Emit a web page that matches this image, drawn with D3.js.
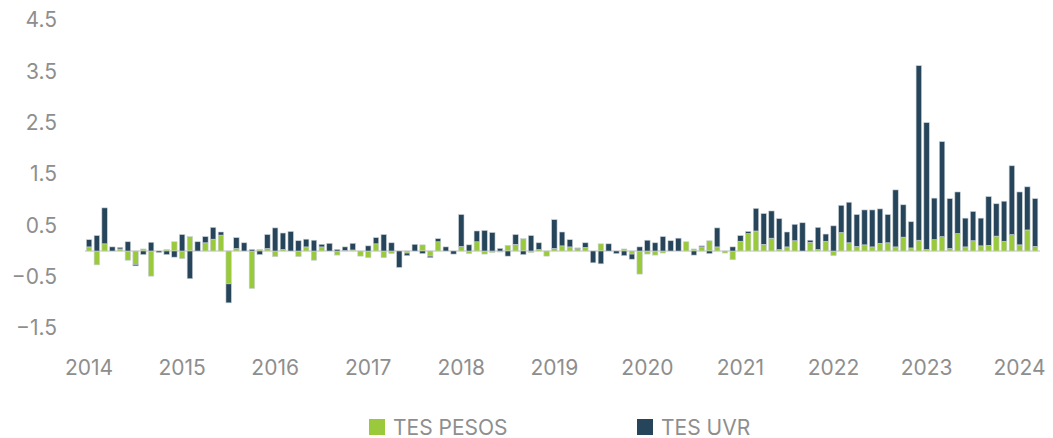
<!DOCTYPE html>
<html>
<head>
<meta charset="utf-8">
<script src="https://cdn.jsdelivr.net/npm/d3@7"></script>
<style>
  html, body { margin: 0; padding: 0; background: #fff; }
  svg { display: block; font-family: "Inter", "Open Sans", sans-serif; }
</style>
</head>
<body>
<svg id="chart" width="1053" height="438"></svg>
<script>
// ---- data (monthly, Jan 2014 – Mar 2024) ----
const startYear = 2014;
const tesPesos = [
  0.08,-0.27,0.14,0,0.04,-0.18,-0.26,0.04,-0.49,0,0.03,0.18,
  -0.15,0.28,0,0.16,0.23,0.31,-0.64,0.05,0,-0.73,0.03,0.05,
  -0.11,0.03,0,-0.11,0.08,-0.18,0.08,0,-0.08,0.01,0.02,-0.10,
  -0.13,0.14,-0.13,-0.05,0,-0.04,0,0.12,-0.10,0.18,0,0,
  0.09,-0.05,0.18,-0.06,-0.03,-0.02,0.11,0.13,0.24,-0.03,0.03,-0.10,
  0.05,0.10,0.08,0.05,0.07,0,0.14,0,0,0.04,-0.06,-0.45,
  -0.06,-0.08,-0.04,0,0,0.18,0.04,0.08,0.20,0.08,-0.04,-0.17,
  0.19,0.34,0.39,0.13,0.25,0.03,0.08,0.20,0,0.17,0.03,0.19,
  -0.09,0.36,0.16,0.09,0.12,0.08,0.15,0.16,0.08,0.27,0.06,0.21,
  0.03,0.22,0.28,0.05,0.34,0.08,0.20,0.10,0.11,0.29,0.19,0.32,
  0.12,0.41,0.09
];
const tesUvr = [
  0.14,0.30,0.70,0.08,0.03,0.18,-0.03,-0.07,0.17,-0.03,-0.07,-0.12,
  0.32,-0.54,0.18,0.12,0.23,0.06,-0.37,0.21,0.16,0.03,-0.07,0.27,
  0.45,0.32,0.38,0.20,0.15,0.21,0.05,0.15,0.03,0.07,0.13,0,
  0.10,0.12,0.32,0.16,-0.32,-0.05,0.13,-0.05,-0.03,0.06,0.08,-0.06,
  0.62,0.12,0.21,0.40,0.36,0.05,-0.10,0.19,-0.07,0.30,0.13,0,
  0.56,0.27,0.14,0.01,0.09,-0.23,-0.25,0.14,-0.05,-0.09,-0.10,0.08,
  0.21,0.16,0.28,0.20,0.25,0,-0.08,0.02,-0.05,0.37,0,0.08,
  0.11,0.04,0.44,0.60,0.53,0.60,0.29,0.32,0.55,0.04,0.43,0.14,
  0.49,0.53,0.79,0.62,0.68,0.72,0.67,0.55,1.11,0.63,0.51,3.40,
  2.47,0.81,1.85,0.97,0.81,0.56,0.57,0.54,0.95,0.63,0.78,1.34,
  1.03,0.84,0.93
];
const yTicks = [-1.5, -0.5, 0.5, 1.5, 2.5, 3.5, 4.5];
const yearLabels = ["2014","2015","2016","2017","2018","2019","2020","2021","2022","2023","2024"];
const seriesNames = ["TES PESOS", "TES UVR"];
const seriesColors = ["#9aca3c", "#26455b"];

// categories: month keys
const months = tesPesos.map((_, i) => `${startYear + Math.floor(i / 12)}-${String(i % 12 + 1).padStart(2, "0")}`);
const rows = months.map((m, i) => ({ month: m, pesos: tesPesos[i], uvr: tesUvr[i] }));

const svg = d3.select("#chart");
const textColor = "#8e8e8e";

const x = d3.scaleBand().domain(months).range([85.2, 1039.0]).paddingInner(0.3).paddingOuter(0.15);
const y = d3.scaleLinear().domain([-1.5, 4.5]).range([328, 20]);

// y labels
svg.append("g").selectAll("text").data(yTicks).join("text")
  .attr("x", 57).attr("y", d => y(d)).attr("dy", "0.35em")
  .attr("text-anchor", "end").attr("fill", textColor)
  .attr("font-size", 21).text(d => d3.format(".1f")(d).replace("-", "\u2212"));

// zero line
svg.append("line")
  .attr("x1", 85).attr("x2", 1040).attr("y1", y(0)).attr("y2", y(0))
  .attr("stroke", "#dedede").attr("stroke-width", 2.2);

// stacked bars
const stack = d3.stack().keys(["pesos", "uvr"]).offset(d3.stackOffsetDiverging);
const layers = stack(rows);
svg.append("g").selectAll("g").data(layers).join("g")
  .attr("fill", (d, i) => seriesColors[i])
  .selectAll("rect").data(d => d).join("rect")
  .attr("x", d => x(d.data.month))
  .attr("width", x.bandwidth())
  .attr("y", d => y(Math.max(d[0], d[1])))
  .attr("height", d => Math.abs(y(d[0]) - y(d[1])))
  .attr("stroke", "#c9d0d6").attr("stroke-width", 0.6);

// x labels (January of each year)
svg.append("g").selectAll("text").data(yearLabels).join("text")
  .attr("x", (d, i) => x(months[i * 12]) + x.bandwidth() / 2)
  .attr("y", 375)
  .attr("text-anchor", "middle").attr("fill", textColor)
  .attr("font-size", 21).text(d => d);

// legend
const legendX = [369, 637];
const lg = svg.append("g").selectAll("g").data(seriesNames).join("g")
  .attr("transform", (d, i) => `translate(${legendX[i]},419)`);
lg.append("rect").attr("width", 16).attr("height", 16).attr("fill", (d, i) => seriesColors[i]);
lg.append("text").attr("x", 24).attr("y", 15.5).attr("fill", textColor)
  .attr("font-size", 21).text(d => d);
</script>
</body>
</html>
